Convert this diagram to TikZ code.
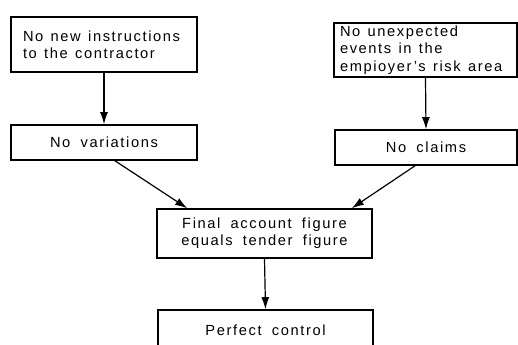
\documentclass[tikz,border=0pt]{standalone}
\usepackage{fontspec}
\setmainfont{Liberation Sans}[LetterSpace=11,WordSpace=1.8]
\usetikzlibrary{arrows.meta}

\tikzset{
  box/.style={draw, line width=1.2pt, rectangle, inner sep=0pt, font=\fontsize{11}{13}\selectfont},
  leftbox/.style={box, align=left, execute at begin node={\spaceskip=0.5em\relax}},
  arr/.style={line width=0.9pt, -{Latex[length=9pt,width=6pt]}}
}

\begin{document}
\begin{tikzpicture}[x=0.75pt,y=0.75pt,yscale=-1,xscale=1]
\useasboundingbox (0,0) rectangle (518,345);
\clip (0,0) rectangle (518,345);

%Boxes
\node (instr) [leftbox, minimum width=139.5pt, minimum height=41.25pt, text width=121.5pt] at (104,44.5) {No new instructions\\to the contractor};
\node (vari) [box, minimum width=139.5pt, minimum height=26.25pt] at (104,142.5) {No variations};
\node (events) [leftbox, minimum width=137.25pt, minimum height=40.5pt, text width=128.25pt] at (425.5,50) {No unexpected\\events in the\\empioyer's risk area};
\node (claims) [box, minimum width=136.5pt, minimum height=26.25pt] at (426,147.5) {No claims};
\node (final) [box, minimum width=161.25pt, minimum height=36.75pt, align=center] at (264.5,233.5) {Final account figure\\equals tender figure};
\node (perfect) [box, minimum width=161.25pt, minimum height=30pt, text depth=0pt] at (265.5,330) {Perfect control};

%Arrows
\draw [arr] (instr.south) -- (vari.north);
\draw [arr] (events.south) -- (claims.north);
\draw [arr] ([xshift=8.25pt]vari.south) -- ([xshift=-58pt]final.north);
\draw [arr] ([xshift=-8.25pt]claims.south) -- ([xshift=65.5pt]final.north);
\draw [arr] (final.south) -- (perfect.north);

\end{tikzpicture}
\end{document}
